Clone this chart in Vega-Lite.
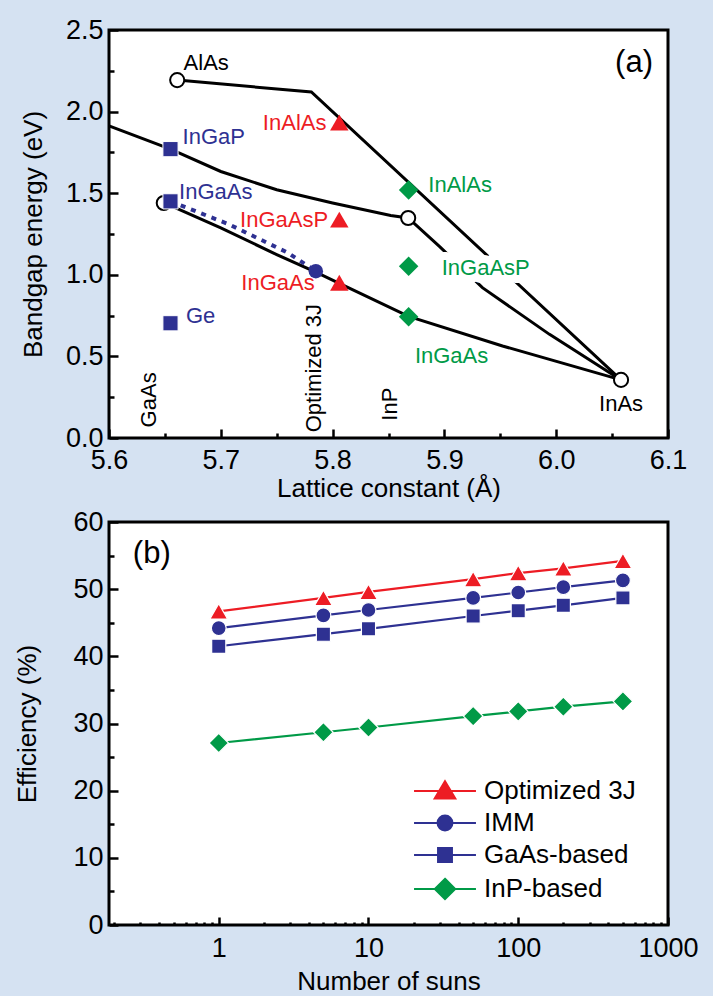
{
  "$schema": "https://vega.github.io/schema/vega-lite/v6.json",
  "background": "#d5e2f2",
  "padding": {"left": 13, "top": 14, "right": 30, "bottom": 30},
  "spacing": 3,
  "config": {
    "font": "Liberation Sans",
    "view": {"fill": "white", "stroke": "black", "strokeWidth": 3},
    "axis": {"domain": false, "grid": false, "ticks": true, "tickColor": "black", "tickWidth": 2.5,
      "labelColor": "black", "titleColor": "black", "labelFont": "Liberation Sans", "titleFont": "Liberation Sans",
      "labelFontSize": 27, "titleFontSize": 26, "titleFontWeight": "normal", "labelOverlap": false, "labelFlush": false, "labelBound": false}
  },
  "resolve": {"scale": {"color": "independent"}, "legend": {"color": "independent"}},
  "vconcat": [
    {
      "width": 559, "height": 408,
      "encoding": {
        "x": {"field": "x", "type": "quantitative",
          "scale": {"domain": [5.6, 6.1], "nice": false, "zero": false},
          "axis": {"title": "Lattice constant (Å)",
            "values": [5.6, 5.65, 5.7, 5.75, 5.8, 5.85, 5.9, 5.95, 6.0, 6.05, 6.1],
            "labelExpr": "abs(round(datum.value*10) - datum.value*10) > 0.01 ? '' : format(datum.value, '.1f')",
            "tickSize": {"condition": {"test": "abs(round(datum.value*10) - datum.value*10) > 0.01", "value": -5}, "value": -9},
            "labelPadding": 18, "titlePadding": -2}},
        "y": {"field": "y", "type": "quantitative",
          "scale": {"domain": [0, 2.5], "nice": false, "zero": false},
          "axis": {"title": "Bandgap energy (eV)",
            "values": [0, 0.25, 0.5, 0.75, 1.0, 1.25, 1.5, 1.75, 2.0, 2.25, 2.5],
            "labelExpr": "abs(round(datum.value*2) - datum.value*2) > 0.01 ? '' : format(datum.value, '.1f')",
            "tickSize": {"condition": {"test": "abs(round(datum.value*2) - datum.value*2) > 0.01", "value": -5}, "value": -9},
            "labelPadding": 15, "titlePadding": 19}}
      },
      "layer": [
        {
          "data": {"values": [{"x": 5.653, "set": "GaAs"}, {"x": 5.806, "set": "Opt3J"}, {"x": 5.868, "set": "InP"}]},
          "mark": {"type": "rule", "strokeWidth": 3.5, "strokeDash": [5, 5]},
          "encoding": {
            "y": {"datum": 0}, "y2": {"datum": 2.5},
            "color": {"field": "set", "type": "nominal", "scale": {"domain": ["GaAs", "Opt3J", "InP", "ref"], "range": ["#2e3192", "#ed1c24", "#009a47", "#000000"]}, "legend": null}
          }
        },
        {
          "data": {"values": [
            {"curve": "AlAs-InAs", "x": 5.661, "y": 2.193},
            {"curve": "AlAs-InAs", "x": 5.781, "y": 2.12},
            {"curve": "AlAs-InAs", "x": 6.058, "y": 0.356},
            {"curve": "upper", "x": 5.6, "y": 1.912},
            {"curve": "upper", "x": 5.655, "y": 1.77},
            {"curve": "upper", "x": 5.7, "y": 1.633},
            {"curve": "upper", "x": 5.75, "y": 1.521},
            {"curve": "upper", "x": 5.8, "y": 1.44},
            {"curve": "upper", "x": 5.852, "y": 1.363},
            {"curve": "upper", "x": 5.8676, "y": 1.348},
            {"curve": "upper", "x": 5.896, "y": 1.171},
            {"curve": "upper", "x": 5.934, "y": 0.921},
            {"curve": "upper", "x": 5.994, "y": 0.635},
            {"curve": "upper", "x": 6.058, "y": 0.356},
            {"curve": "GaAs-InAs", "x": 5.653, "y": 1.43},
            {"curve": "GaAs-InAs", "x": 5.7, "y": 1.287},
            {"curve": "GaAs-InAs", "x": 5.75, "y": 1.124},
            {"curve": "GaAs-InAs", "x": 5.785, "y": 1.016},
            {"curve": "GaAs-InAs", "x": 5.806, "y": 0.948},
            {"curve": "GaAs-InAs", "x": 5.868, "y": 0.745},
            {"curve": "GaAs-InAs", "x": 5.952, "y": 0.564},
            {"curve": "GaAs-InAs", "x": 6.058, "y": 0.356}
          ]},
          "mark": {"type": "line", "color": "black", "strokeWidth": 3},
          "encoding": {"detail": {"field": "curve"}}
        },
        {
          "data": {"values": [
            {"x": 5.655, "y": 1.45}, {"x": 5.707, "y": 1.31}, {"x": 5.76, "y": 1.135}, {"x": 5.785, "y": 1.022}
          ]},
          "mark": {"type": "line", "color": "#2e3192", "strokeWidth": 4, "strokeDash": [5, 6]},
          "encoding": {}
        },
        {
          "data": {"values": [
            {"x": 5.661, "y": 2.193, "name": "AlAs"}, {"x": 5.649, "y": 1.44, "name": "GaAs"},
            {"x": 5.8676, "y": 1.348, "name": "InP"}, {"x": 6.058, "y": 0.356, "name": "InAs"}
          ]},
          "mark": {"type": "point", "shape": "circle", "filled": true, "fill": "white", "stroke": "black", "strokeWidth": 2, "size": 200, "opacity": 1},
          "encoding": {}
        },
        {
          "data": {"values": [
            {"x": 5.655, "y": 1.77, "name": "InGaP"}, {"x": 5.655, "y": 1.45, "name": "InGaAs"}, {"x": 5.655, "y": 0.703, "name": "Ge"}
          ]},
          "mark": {"type": "point", "shape": "square", "filled": true, "color": "#2e3192", "stroke": "white", "strokeWidth": 1, "size": 230, "opacity": 1},
          "encoding": {}
        },
        {
          "data": {"values": [{"x": 5.785, "y": 1.022, "name": "IMM"}]},
          "mark": {"type": "point", "shape": "circle", "filled": true, "color": "#2e3192", "size": 210, "opacity": 1},
          "encoding": {}
        },
        {
          "data": {"values": [
            {"x": 5.806, "y": 1.933, "name": "InAlAs"}, {"x": 5.806, "y": 1.338, "name": "InGaAsP"}, {"x": 5.806, "y": 0.951, "name": "InGaAs"}
          ]},
          "mark": {"type": "point", "shape": "triangle-up", "filled": true, "color": "#ed1c24", "size": 340, "opacity": 1},
          "encoding": {}
        },
        {
          "data": {"values": [
            {"x": 5.868, "y": 1.52, "name": "InAlAs"}, {"x": 5.868, "y": 1.053, "name": "InGaAsP"}, {"x": 5.868, "y": 0.743, "name": "InGaAs"}
          ]},
          "mark": {"type": "point", "shape": "diamond", "filled": true, "color": "#009a47", "size": 380, "opacity": 1},
          "encoding": {}
        },
        {
          "data": {"values": [{"x": 5.8976, "y": 1.043, "label": "InGaAsP"}]},
          "mark": {"type": "text", "align": "left", "baseline": "middle", "fontSize": 22, "fill": "white", "stroke": "white", "strokeWidth": 16, "strokeJoin": "round"},
          "encoding": {"text": {"field": "label"}}
        },
        {
          "data": {"values": [
            {"x": 5.6667, "y": 2.295, "label": "AlAs", "set": "ref"},
            {"x": 5.6658, "y": 1.847, "label": "InGaP", "set": "GaAs"},
            {"x": 5.6627, "y": 1.505, "label": "InGaAs", "set": "GaAs"},
            {"x": 5.6688, "y": 0.747, "label": "Ge", "set": "GaAs"},
            {"x": 5.8856, "y": 1.552, "label": "InAlAs", "set": "InP"},
            {"x": 5.8976, "y": 1.043, "label": "InGaAsP", "set": "InP"},
            {"x": 5.8736, "y": 0.503, "label": "InGaAs", "set": "InP"}
          ]},
          "mark": {"type": "text", "align": "left", "baseline": "middle", "fontSize": 22},
          "encoding": {"text": {"field": "label"}, "color": {"field": "set", "type": "nominal", "legend": null}}
        },
        {
          "data": {"values": [
            {"x": 5.7945, "y": 1.933, "label": "InAlAs", "set": "Opt3J"},
            {"x": 5.796, "y": 1.338, "label": "InGaAsP", "set": "Opt3J"},
            {"x": 5.784, "y": 0.947, "label": "InGaAs", "set": "Opt3J"}
          ]},
          "mark": {"type": "text", "align": "right", "baseline": "middle", "fontSize": 22},
          "encoding": {"text": {"field": "label"}, "color": {"field": "set", "type": "nominal", "legend": null}}
        },
        {
          "data": {"values": [{"x": 6.058, "y": 0.208, "label": "InAs"}]},
          "mark": {"type": "text", "align": "center", "baseline": "middle", "fontSize": 22, "color": "black"},
          "encoding": {"text": {"field": "label"}}
        },
        {
          "data": {"values": [
            {"x": 5.6355, "y": 0.065, "label": "GaAs"},
            {"x": 5.783, "y": 0.035, "label": "Optimized 3J"},
            {"x": 5.851, "y": 0.106, "label": "InP"}
          ]},
          "mark": {"type": "text", "align": "left", "baseline": "middle", "angle": 270, "fontSize": 22, "color": "black"},
          "encoding": {"text": {"field": "label"}}
        },
        {
          "data": {"values": [{"x": 6.0696, "y": 2.298, "label": "(a)"}]},
          "mark": {"type": "text", "align": "center", "baseline": "middle", "fontSize": 31, "color": "black"},
          "encoding": {"text": {"field": "label"}}
        }
      ]
    },
    {
      "width": 559, "height": 403,
      "encoding": {
        "x": {"field": "suns", "type": "quantitative",
          "scale": {"type": "log", "domain": [0.185, 1000], "nice": false},
          "axis": {"title": "Number of suns",
            "values": [0.2, 0.3, 0.4, 0.5, 0.6, 0.7, 0.8, 0.9, 1, 2, 3, 4, 5, 6, 7, 8, 9, 10, 20, 30, 40, 50, 60, 70, 80, 90, 100, 200, 300, 400, 500, 600, 700, 800, 900, 1000],
            "labelExpr": "indexof([1, 10, 100, 1000], datum.value) >= 0 ? format(datum.value, 'd') : ''",
            "tickSize": {"condition": {"test": "indexof([1, 10, 100, 1000], datum.value) < 0", "value": -3}, "value": -8},
            "labelPadding": 18, "titlePadding": 2}},
        "y": {"field": "eff", "type": "quantitative",
          "scale": {"domain": [0, 60], "nice": false, "zero": false},
          "axis": {"title": "Efficiency (%)",
            "values": [0, 5, 10, 15, 20, 25, 30, 35, 40, 45, 50, 55, 60],
            "labelExpr": "datum.value % 10 != 0 ? '' : format(datum.value, 'd')",
            "tickSize": {"condition": {"test": "datum.value % 10 != 0", "value": -5}, "value": -9},
            "labelPadding": 15, "titlePadding": 32}}
      },
      "layer": [
        {
          "data": {"values": [{"eff": 50}]},
          "mark": {"type": "rule", "color": "black", "strokeWidth": 4, "strokeDash": [4, 8.5]},
          "encoding": {"x": {"datum": 0.185}, "x2": {"datum": 1000}}
        },
        {
          "data": {"name": "eff"},
          "mark": {"type": "line", "strokeWidth": 2.2},
          "encoding": {
            "color": {"field": "series", "type": "nominal",
              "scale": {"domain": ["Optimized 3J", "IMM", "GaAs-based", "InP-based"], "range": ["#ed1c24", "#2e3192", "#2e3192", "#009a47"]},
              "legend": {
                "title": null, "orient": "none", "legendX": 323, "legendY": 256,
                "symbolSize": 576, "symbolStrokeWidth": 2, "labelFontSize": 26, "labelOffset": 26, "rowPadding": 6,
                "labelColor": "black", "labelFont": "Liberation Sans", "padding": 0,
                "encode": {"symbols": {"update": {
                  "shape": {"signal": "datum.value === 'Optimized 3J' ? 'M-2.58,0H2.58M0,-0.82L0.86,0.62L-0.86,0.62Z' : datum.value === 'IMM' ? 'M-2.58,0H2.58M0.62,0A0.62,0.62,0,1,1,-0.62,0A0.62,0.62,0,1,1,0.62,0Z' : datum.value === 'GaAs-based' ? 'M-2.58,0H2.58M-0.58,-0.58H0.58V0.58H-0.58Z' : 'M-2.58,0H2.58M0,-0.85L0.85,0L0,0.85L-0.85,0Z'"},
                  "fill": {"signal": "datum.value === 'Optimized 3J' ? '#ed1c24' : datum.value === 'InP-based' ? '#009a47' : '#2e3192'"},
                  "stroke": {"signal": "datum.value === 'Optimized 3J' ? '#ed1c24' : datum.value === 'InP-based' ? '#009a47' : '#2e3192'"},
                  "strokeWidth": {"value": 2},
                  "size": {"value": 576},
                  "opacity": {"value": 1},
                  "fillOpacity": {"value": 1}
                }}}
              }
            }
          }
        },
        {
          "data": {"name": "eff"},
          "transform": [{"filter": "datum.series === 'Optimized 3J'"}],
          "mark": {"type": "point", "shape": "triangle-up", "filled": true, "color": "#ed1c24", "opacity": 1, "stroke": "white", "strokeWidth": 1.2, "size": 320},
          "encoding": {}
        },
        {
          "data": {"name": "eff"},
          "transform": [{"filter": "datum.series === 'IMM'"}],
          "mark": {"type": "point", "shape": "circle", "filled": true, "color": "#2e3192", "opacity": 1, "stroke": "white", "strokeWidth": 1.2, "size": 220},
          "encoding": {}
        },
        {
          "data": {"name": "eff"},
          "transform": [{"filter": "datum.series === 'GaAs-based'"}],
          "mark": {"type": "point", "shape": "square", "filled": true, "color": "#2e3192", "opacity": 1, "stroke": "white", "strokeWidth": 1.2, "size": 200},
          "encoding": {}
        },
        {
          "data": {"name": "eff"},
          "transform": [{"filter": "datum.series === 'InP-based'"}],
          "mark": {"type": "point", "shape": "diamond", "filled": true, "color": "#009a47", "opacity": 1, "stroke": "white", "strokeWidth": 1.2, "size": 380},
          "encoding": {}
        },
        {
          "data": {"values": [{"suns": 0.357, "eff": 55.2, "label": "(b)"}]},
          "mark": {"type": "text", "align": "center", "baseline": "middle", "fontSize": 31, "color": "black"},
          "encoding": {"text": {"field": "label"}}
        }
      ]
    }
  ],
  "datasets": {
    "eff": [
      {"series": "Optimized 3J", "suns": 1, "eff": 46.7},
      {"series": "Optimized 3J", "suns": 5, "eff": 48.7},
      {"series": "Optimized 3J", "suns": 10, "eff": 49.6},
      {"series": "Optimized 3J", "suns": 50, "eff": 51.5},
      {"series": "Optimized 3J", "suns": 100, "eff": 52.4},
      {"series": "Optimized 3J", "suns": 200, "eff": 53.1},
      {"series": "Optimized 3J", "suns": 500, "eff": 54.2},
      {"series": "IMM", "suns": 1, "eff": 44.2},
      {"series": "IMM", "suns": 5, "eff": 46.1},
      {"series": "IMM", "suns": 10, "eff": 46.9},
      {"series": "IMM", "suns": 50, "eff": 48.7},
      {"series": "IMM", "suns": 100, "eff": 49.5},
      {"series": "IMM", "suns": 200, "eff": 50.3},
      {"series": "IMM", "suns": 500, "eff": 51.3},
      {"series": "GaAs-based", "suns": 1, "eff": 41.5},
      {"series": "GaAs-based", "suns": 5, "eff": 43.3},
      {"series": "GaAs-based", "suns": 10, "eff": 44.1},
      {"series": "GaAs-based", "suns": 50, "eff": 46.0},
      {"series": "GaAs-based", "suns": 100, "eff": 46.8},
      {"series": "GaAs-based", "suns": 200, "eff": 47.6},
      {"series": "GaAs-based", "suns": 500, "eff": 48.7},
      {"series": "InP-based", "suns": 1, "eff": 27.1},
      {"series": "InP-based", "suns": 5, "eff": 28.7},
      {"series": "InP-based", "suns": 10, "eff": 29.4},
      {"series": "InP-based", "suns": 50, "eff": 31.1},
      {"series": "InP-based", "suns": 100, "eff": 31.8},
      {"series": "InP-based", "suns": 200, "eff": 32.5},
      {"series": "InP-based", "suns": 500, "eff": 33.3}
    ]
  }
}
